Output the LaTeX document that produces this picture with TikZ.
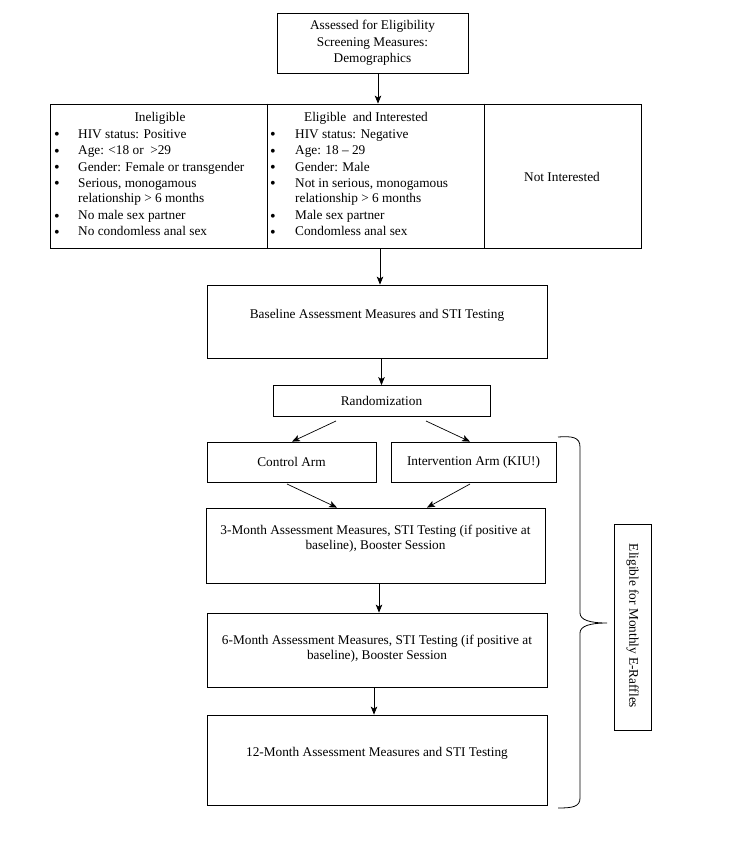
\documentclass[tikz,border=0pt]{standalone}
\usepackage{fontspec}
\setmainfont{Liberation Serif}
\usetikzlibrary{arrows.meta,calc}
\begin{document}
\begin{tikzpicture}[x=1pt,y=-1pt,
  fs/.style={font=\fontsize{13.3}{16}\selectfont},
  box/.style={draw,line width=0.8pt,inner sep=0pt,fs,align=center},
  txt/.style={inner sep=0pt,fs,align=center},
  itm/.style={inner sep=0pt,fs,anchor=base west},
  bul/.style={inner sep=0pt,font=\fontsize{16}{16}\selectfont,anchor=base,yshift=-1.8pt},
  arr/.style={-{Stealth[length=8pt,width=6.5pt,inset=2pt]},line width=0.7pt}]
\useasboundingbox[fill=white] (0,0) rectangle (737,851);

% top box
\node[box,minimum width=191pt,minimum height=60pt] (top) at (372.5,43)
  {Assessed for Eligibility\\[0.5pt]Screening Measures:\\[0.5pt]Demographics};

% table
\node[draw,line width=0.8pt,minimum width=591pt,minimum height=144pt,inner sep=0pt] (tab) at (345.5,176) {};
\draw[line width=0.8pt] (tab.north -| 267,0) -- (tab.south -| 267,0);
\draw[line width=0.8pt] (tab.north -| 484,0) -- (tab.south -| 484,0);

\node[txt] (h1) at (160,118) {Ineligible};
\node[txt] (h2) at (366,118) {Eligible~ and Interested};
\node[txt] (h3) at (562,177) {Not Interested};

% column 1
\foreach \y/\t [count=\i] in {138/{HIV status: Positive},154.5/{Age: <18 or~ >29},171/{Gender: Female or transgender},187/{Serious, monogamous},219.5/{No male sex partner},235.5/{No condomless anal sex}}{
  \node[bul] (b1\i) at (57,\y) {•};
  \node[itm] (a1\i) at (78,\y) {\t};
}
\node[itm] (a1w) at (78,202.5) {relationship > 6 months};
% column 2
\foreach \y/\t [count=\i] in {138/{HIV status: Negative},154.5/{Age: 18 – 29},171/{Gender: Male},187/{Not in serious, monogamous},219.5/{Male sex partner},235.5/{Condomless anal sex}}{
  \node[bul] (b2\i) at (273,\y) {•};
  \node[itm] (a2\i) at (295,\y) {\t};
}
\node[itm] (a2w) at (295,202.5) {relationship > 6 months};

% baseline
\node[box,minimum width=340pt,minimum height=73pt] (base) at (377,321.5) {};
\node[txt] (baset) at (377,315) {Baseline Assessment Measures and STI Testing};

% randomization
\node[box,minimum width=217pt,minimum height=31pt] (rand) at (381.5,401) {Randomization};

% arms
\node[box,minimum width=169pt,minimum height=40pt] (ctrl) at (291.5,462) {Control Arm};
\node[box,minimum width=165pt,minimum height=40pt] (intv) at (473.5,462) {Intervention Arm (KIU!)};

% follow-ups
\node[box,minimum width=339pt,minimum height=75pt] (m3) at (375.5,545.5) {};
\node[txt] (m3t) at (375.5,539) {3-Month Assessment Measures, STI Testing (if positive at\\[-1pt]baseline), Booster Session};
\node[box,minimum width=340pt,minimum height=74pt] (m6) at (377,650) {};
\node[txt] (m6t) at (377,649) {6-Month Assessment Measures, STI Testing (if positive at\\[-1pt]baseline), Booster Session};
\node[box,minimum width=340pt,minimum height=90pt] (m12) at (377,760) {};
\node[txt] (m12t) at (377,753) {12-Month Assessment Measures and STI Testing};

% raffle
\node[box,minimum width=37pt,minimum height=206pt] (raf) at (632.5,627) {};
\node[txt,rotate=-90] (raft) at (632.5,626) {Eligible for Monthly E-Raffles};

% arrows
\draw[arr] ([xshift=5.5pt]top.south) -- ([xshift=5.5pt]top.south |- tab.north);
\draw[arr] (tab.south -| 380,0) -- (base.north -| 380,0);
\draw[arr] ([xshift=4.5pt]base.south) -- ([xshift=4.5pt]base.south |- rand.north);
\coordinate (r1) at (336,421);
\coordinate (r2) at (426,421);
\draw[arr] (r1) -- (ctrl.north -| 292,0);
\draw[arr] (r2) -- (intv.north -| 470,0);
\coordinate (c1) at (287,484);
\coordinate (i1) at (470,484);
\draw[arr] (c1) -- (m3.north -| 337,0);
\draw[arr] (i1) -- (m3.north -| 427,0);
\draw[arr] (m3.south -| 379,0) -- (m6.north -| 379,0);
\draw[arr] (m6.south -| 374,0) -- (m12.north -| 374,0);

% brace
\draw[line width=0.8pt] (558,437) .. controls (572,436) and (580,437) .. (580,447)
  -- (580,613) .. controls (580,620) and (590,623) .. (607,623)
  .. controls (590,623) and (580,626) .. (580,633)
  -- (580,798) .. controls (580,807) and (572,808) .. (558,808);
\end{tikzpicture}
\end{document}
